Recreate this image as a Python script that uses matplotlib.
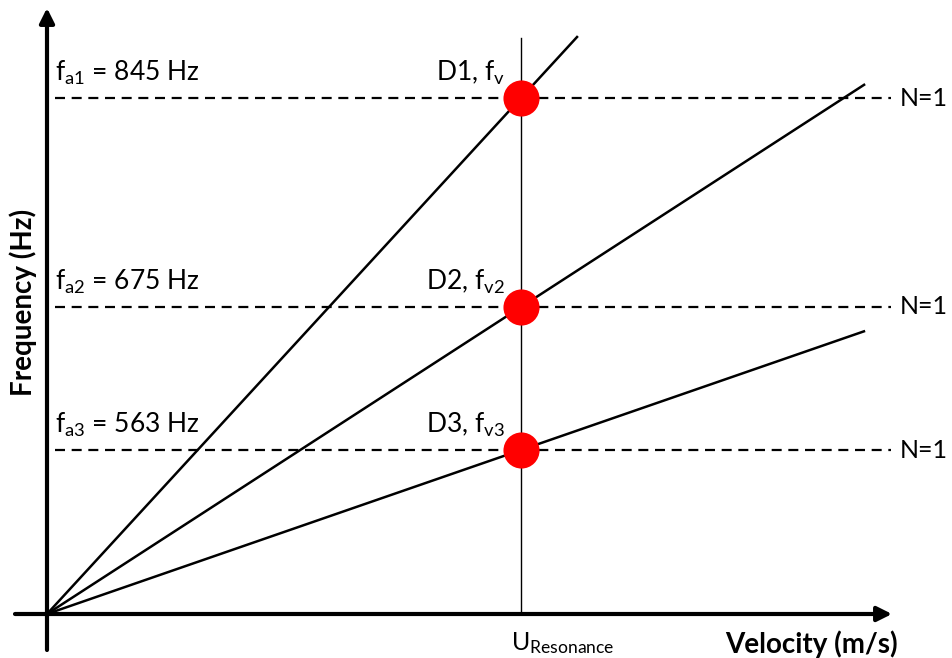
import numpy as np
import matplotlib
matplotlib.use("Agg")
import matplotlib.pyplot as plt

plt.rcParams['font.family'] = ['Lato', 'DejaVu Sans']
plt.rcParams['mathtext.fontset'] = 'custom'
plt.rcParams['mathtext.rm'] = 'Lato'
plt.rcParams['mathtext.it'] = 'Lato'

# Natural frequencies of the three cases (Hz) and their labels
freq_labels = ["a1", "a2", "a3"]
acoustic_freqs = [845, 675, 563]
point_labels = ["D1, $\\mathregular{f_{v}}$", "D2, $\\mathregular{f_{v2}}$", "D3, $\\mathregular{f_{v3}}$"]
mode_labels = ["N=1", "N=1", "N=1"]
u_resonance = 1.0
line_ends = [1.12, 1.726, 1.726]

# Schematic frequency axis: piecewise-linear mapping of Hz to drawing height
F_knots = np.array([-10000.0, 0.0, 563.0, 675.0, 845.0, 10000.0])
P_knots = np.array([-10000.0 * 164 / 563, 0.0, 164.0, 307.0, 516.0,
                    516.0 + (516 - 307) / (845 - 675) * (10000 - 845)])

def fwd(f):
    return np.interp(f, F_knots, P_knots)

def inv(p):
    return np.interp(p, P_knots, F_knots)

fig = plt.figure(figsize=(9.52, 6.58), dpi=100)
ax = fig.add_axes([0, 0, 1, 1])
ax.set_yscale('function', functions=(fwd, inv))
px = 474.0  # pixels per velocity unit
ax.set_xlim(-47 / px, 905 / px)
ax.set_ylim(inv(-44), inv(614))
ax.axis('off')

# Axes with arrowheads
ax.annotate('', xy=(845 / px, 0), xytext=(-32 / px, 0),
            arrowprops=dict(arrowstyle='-|>', lw=3, color='black',
                            mutation_scale=22, shrinkA=0, shrinkB=0))
ax.annotate('', xy=(0, inv(606)), xytext=(0, inv(-36)),
            arrowprops=dict(arrowstyle='-|>', lw=3, color='black',
                            mutation_scale=22, shrinkA=0, shrinkB=0))

# Resonance velocity marker
ax.plot([u_resonance, u_resonance], [0, inv(576)], color='black', lw=1)

for f, lab, plab, mlab, xe in zip(acoustic_freqs, freq_labels, point_labels,
                                  mode_labels, line_ends):
    # Strouhal line through the origin and the resonance point
    p_end = fwd(f) * xe / u_resonance
    ax.plot([0, xe], [0, inv(p_end)], color='black', lw=1.8,
            solid_capstyle='butt')
    # Acoustic mode frequency
    ax.plot([8 / px, 844 / px], [f, f], color='black', lw=1.6,
            dashes=(4.5, 3))
    ax.plot([u_resonance], [f], 'o', color='#ff0000', ms=26, mec='none',
            zorder=5)
    ax.text(8 / px, inv(fwd(f) + 11),
            "$\\mathregular{f_{%s}}$ = %d Hz" % (lab, f),
            fontsize=19, ha='left', va='bottom')
    ax.text(u_resonance - 16 / px, inv(fwd(f) + 11), plab,
            fontsize=19, ha='right', va='bottom')
    ax.text(853 / px, f, mlab, fontsize=18, ha='left', va='center')

ax.text(851 / px, inv(-30), "Velocity (m/s)", fontsize=20, fontweight='bold',
        ha='right', va='center')
ax.text(-24 / px, inv(312), "Frequency (Hz)", fontsize=20, fontweight='bold',
        ha='center', va='center', rotation=90)
ax.text(u_resonance - 10 / px, inv(-29), "$\\mathregular{U_{Resonance}}$",
        fontsize=18, ha='left', va='center')

fig.savefig('out.png', dpi=100)
